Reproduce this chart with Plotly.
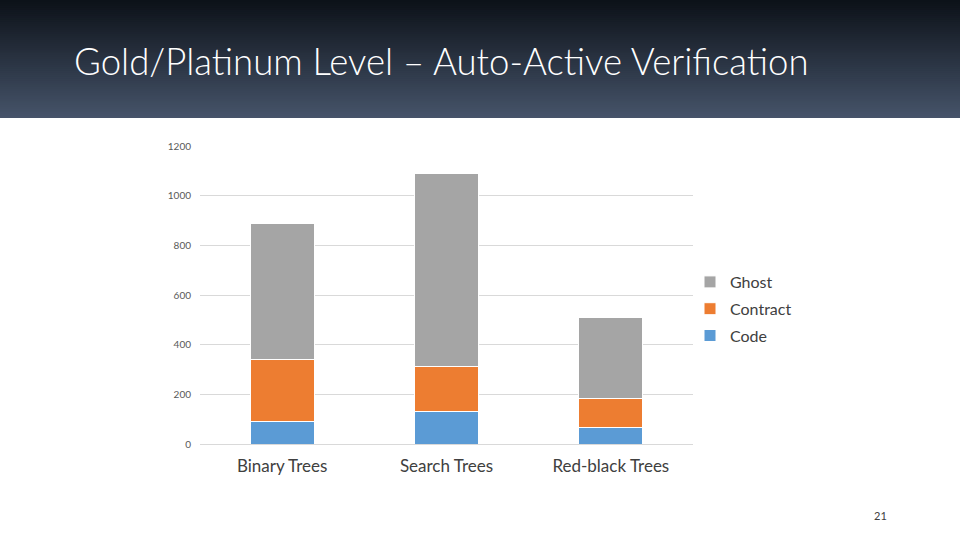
import plotly.graph_objects as go

# ---------------------------------------------------------------------------
# Data
# ---------------------------------------------------------------------------
categories = ["Binary Trees", "Search Trees", "Red-black Trees"]
code_lines = [91, 129, 68]
contract_lines = [251, 185, 117]
ghost_lines = [544, 777, 323]
y_ticks = [0, 200, 400, 600, 800, 1000, 1200]

W, H = 960, 540
FONT = "Lato"


def px_x(px):
    return px / W


def px_y(py):
    return 1 - py / H


def lerp_hex(c0, c1, t):
    a = [int(c0[i:i + 2], 16) for i in (1, 3, 5)]
    b = [int(c1[i:i + 2], 16) for i in (1, 3, 5)]
    return "#" + "".join(f"{round(x + (y - x) * t):02x}" for x, y in zip(a, b))


fig = go.Figure()

# stacked bottom-up; legend shows Ghost on top (rank 1)
series = [
    ("Code", code_lines, "#5b9bd5", 3),
    ("Contract", contract_lines, "#ed7d31", 2),
    ("Ghost", ghost_lines, "#a5a5a5", 1),
]
for name, vals, color, rank in series:
    fig.add_trace(go.Bar(
        x=categories,
        y=vals,
        name=name,
        legendgroup=name,
        legendrank=rank,
        marker=dict(color=color, line=dict(color="white", width=1)),
    ))

# header band: dark-to-slate gradient, each stripe runs to the band bottom
# so the next one paints over it (no seams)
shapes = []
n_strips = 60
band_bottom = 118
for i in range(n_strips):
    y0 = band_bottom * i / n_strips
    shapes.append(dict(
        type="rect", xref="paper", yref="paper",
        x0=0, x1=1, y0=px_y(band_bottom), y1=px_y(y0),
        fillcolor=lerp_hex("#0c1118", "#46546a", (i + 0.5) / n_strips),
        line=dict(width=0), layer="below",
    ))

fig.update_layout(
    width=W,
    height=H,
    margin=dict(l=0, r=0, t=0, b=0, pad=0, autoexpand=False),
    paper_bgcolor="white",
    plot_bgcolor="white",
    barmode="stack",
    bargap=0.61,
    font=dict(family=FONT, color="#404040"),
    shapes=shapes,
    xaxis=dict(
        domain=[px_x(200), px_x(693)],
        showgrid=False,
        showline=True,
        linecolor="#d9d9d9",
        ticks="",
        automargin=False,
        ticklabelstandoff=7,
        tickfont=dict(size=17, color="#404040"),
    ),
    yaxis=dict(
        domain=[px_y(444), px_y(146)],
        range=[0, 1200],
        tickvals=y_ticks,
        showgrid=True,
        gridcolor="#d9d9d9",
        zeroline=False,
        ticks="",
        automargin=False,
        ticklabelstandoff=8,
        tickfont=dict(size=10, color="#595959"),
    ),
    legend=dict(
        x=px_x(690),
        y=px_y(309),
        xanchor="left",
        yanchor="middle",
        traceorder="grouped",
        tracegroupgap=3,
        font=dict(size=16, color="#404040"),
        bgcolor="rgba(0,0,0,0)",
    ),
    annotations=[
        dict(
            text="Gold/Platinum Level – Auto-Active Verification",
            xref="paper", yref="paper",
            x=px_x(72), y=px_y(61),
            xanchor="left", yanchor="middle",
            showarrow=False,
            font=dict(family=FONT, size=36.6, weight=300, color="white"),
        ),
        dict(
            text="21",
            xref="paper", yref="paper",
            x=px_x(880), y=px_y(515),
            xanchor="center", yanchor="middle",
            showarrow=False,
            font=dict(family=FONT, size=11, color="#404040"),
        ),
    ],
)

# make the page exactly one 960x540 slide (no body margin, no overflow)
pin = (
    "var s=document.createElement('style');"
    "s.textContent='html,body{margin:0;padding:0;overflow:hidden;"
    "width:960px;height:540px;}"
    ".plotly-graph-div{position:fixed;left:0;top:0;}';"
    "document.head.appendChild(s);"
)
fig.write_html("out.html", post_script=pin, config={"displayModeBar": False})
